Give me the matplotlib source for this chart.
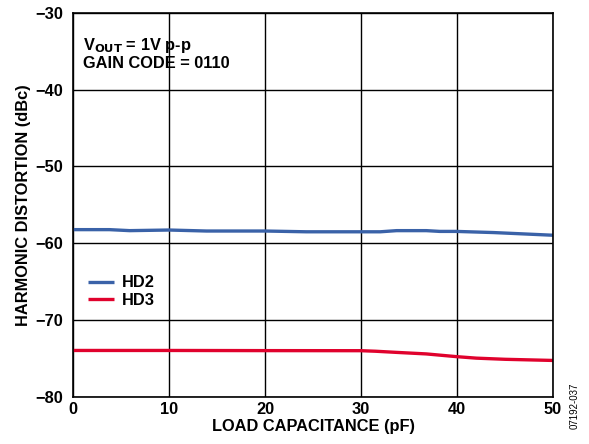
import matplotlib
matplotlib.use("Agg")
import matplotlib.pyplot as plt

plt.rcParams["font.family"] = ["Liberation Sans", "DejaVu Sans"]
plt.rcParams["font.weight"] = "bold"

# load capacitance (pF) and harmonic distortion (dBc)
hd2_x = [0, 3.8, 5.9, 10, 13.9, 20, 24.3, 29.9, 32, 33.7, 36.8, 38.2, 39.9, 43.8, 50]
hd2_y = [-58.22, -58.22, -58.35, -58.27, -58.4, -58.4, -58.5, -58.5, -58.5, -58.35,
         -58.35, -58.45, -58.45, -58.6, -58.95]

hd3_x = [0, 10, 20, 30, 31.5, 33.7, 36.8, 39.9, 42, 45, 50]
hd3_y = [-73.95, -73.95, -73.97, -73.98, -74.05, -74.2, -74.4, -74.75, -74.95, -75.1, -75.25]

xticks = [0, 10, 20, 30, 40, 50]
yticks = [-80, -70, -60, -50, -40, -30]

fs = 11.8

fig = plt.figure(figsize=(5.89, 4.44), dpi=100)
ax = fig.add_axes([0.124, 0.106, 0.815, 0.865])

ax.plot(hd2_x, hd2_y, color="#3a62a8", lw=2.4, label="HD2", solid_capstyle="butt")
ax.plot(hd3_x, hd3_y, color="#e0022d", lw=2.4, label="HD3", solid_capstyle="butt")

ax.set_xlim(0, 50)
ax.set_ylim(-80, -30)
ax.set_xticks(xticks)
ax.set_yticks(yticks)
ax.set_yticklabels(["\u2212" + str(abs(v)) for v in yticks])
ax.grid(True, color="black", lw=1)
ax.tick_params(length=0, labelsize=fs)
ax.tick_params(axis="y", pad=7)
ax.tick_params(axis="x", pad=4)
for s in ax.spines.values():
    s.set_linewidth(1.2)

ax.set_xlabel("LOAD CAPACITANCE (pF)", fontsize=fs, fontweight="bold", labelpad=1)
ax.set_ylabel("HARMONIC DISTORTION (dBc)", fontsize=fs, fontweight="bold", labelpad=3)

ax.text(1.0, -33.0, "V$_\\mathbf{OUT}$ = 1V p-p\nGAIN CODE = 0110", fontsize=fs,
        fontweight="bold", va="top", ha="left", linespacing=1.1)

ax.legend(loc="upper left", bbox_to_anchor=(0.0, 0.355), frameon=False, fontsize=fs,
          handlelength=1.6, handletextpad=0.5, labelspacing=0.15)

fig.text(0.976, 0.085, "07192-037", rotation=90, fontsize=7, fontweight="normal",
         ha="center", va="center")

fig.savefig("out.png", dpi=100)
